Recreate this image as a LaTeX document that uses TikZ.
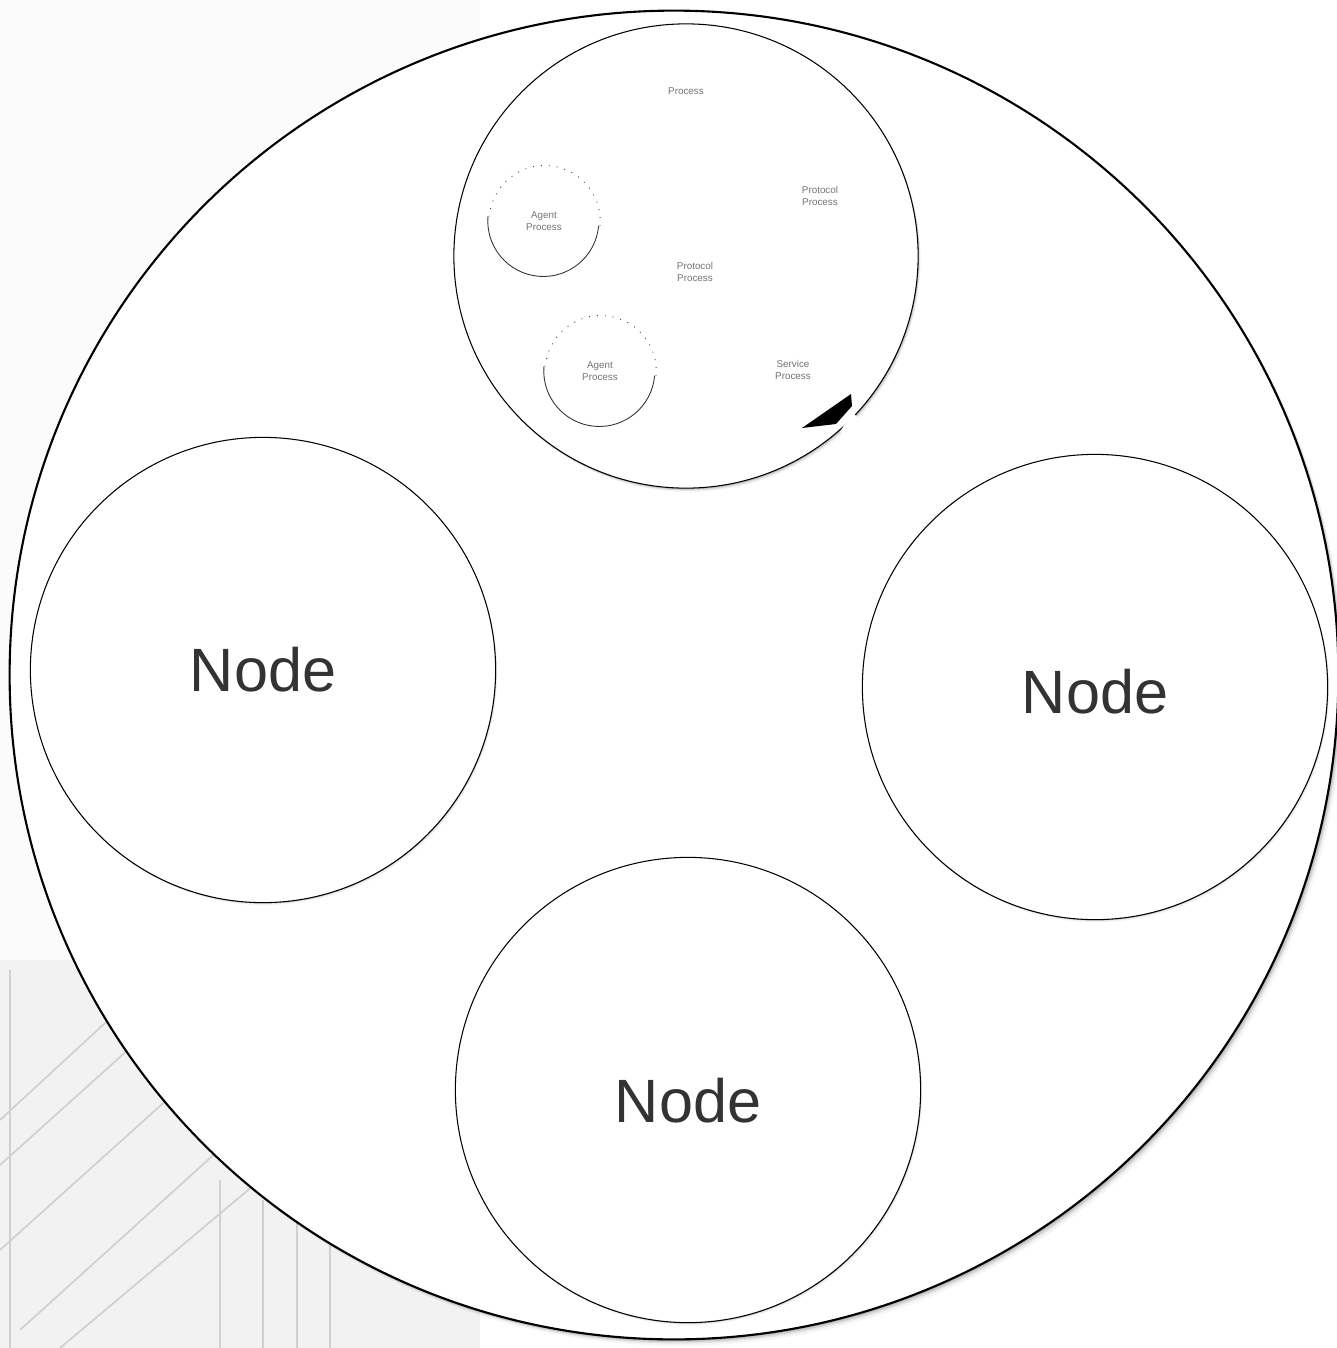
\documentclass[tikz,border=0pt]{standalone}
\usepackage{fontspec}
\setmainfont{Liberation Sans}
\begin{document}
\begin{tikzpicture}[x=0.01cm,y=-0.01cm,
  outerc/.style={circle,draw=black,line width=0.6pt,fill=white,minimum size=13.28cm,inner sep=0pt},
  nodec/.style={circle,draw=black,line width=0.3pt,fill=white,minimum size=4.65cm,inner sep=0pt},
  nodetext/.style={font=\fontsize{17.4pt}{20pt}\selectfont,text=black!80,inner sep=0pt},
  agentc/.style={circle,minimum size=1.11cm,inner sep=0pt,align=center,
     font=\fontsize{2.8pt}{3.4pt}\selectfont,text=black!55},
  small/.style={align=center,font=\fontsize{2.8pt}{3.4pt}\selectfont,text=black!55},
  agentline/.style={line width=0.25pt,black!80},
  bgline/.style={black!18,line width=0.5pt}]
\useasboundingbox (0,0) rectangle (1337,1348);
\fill[white] (0,0) rectangle (1337,1348);
% faint background texture
\fill[black!1.5] (0,0) rectangle (480,960);
\fill[black!5] (0,960) rectangle (480,1348);
\draw[bgline] (10,970) -- (10,1348);
\draw[bgline] (220,1180) -- (220,1348);
\draw[bgline] (263,1200) -- (263,1348);
\draw[bgline] (297,1220) -- (297,1348);
\draw[bgline] (330,1240) -- (330,1348);
\draw[bgline] (0,1120) -- (130,1000);
\draw[bgline] (0,1165) -- (150,1030);
\draw[bgline] (0,1250) -- (200,1070);
\draw[bgline] (20,1330) -- (230,1140);
\draw[bgline] (60,1348) -- (260,1180);
% outer circle with shadow
\foreach \i/\o in {9/0.04,6/0.07,4/0.10,2/0.16}
  \fill[black,opacity=\o] (674+\i*0.6,675+\i*0.7) circle[radius=6.64cm];
\node[outerc] (outer) at (674,675) {};
% process circle (top)
\foreach \i/\o in {6/0.05,4/0.09,2/0.16}
  \fill[black,opacity=\o] (686+\i*0.4,256+\i*0.6) circle[radius=2.32cm];
\node[nodec,minimum size=4.64cm] (proc) at (686,256) {};
% node circles
\foreach \cx/\cy in {263/670,1095/687,688/1090}
  \foreach \i/\o in {4/0.05,2/0.09,1/0.12}
    \fill[black,opacity=\o] (\cx+\i*0.4,\cy+\i*0.6) circle[radius=2.325cm];
\node[nodec] (nl) at (263,670) {};
\node[nodec] (nr) at (1095,687) {};
\node[nodec] (nb) at (688,1090) {};
\node[nodetext] (nlt) at (263,670) {Node};
\node[nodetext] (nrt) at (1095,692) {Node};
\node[nodetext] (nbt) at (688,1101) {Node};
% agent processes
\node[agentc] (ag1) at (544,221) {Agent\\Process};
\node[agentc] (ag2) at (600,371) {Agent\\Process};
\foreach \a in {ag1,ag2} {
  \draw[agentline] (\a.175) arc[start angle=175, end angle=355, radius=0.555cm];
  \draw[agentline,dotted] (\a.355) arc[start angle=-5, end angle=175, radius=0.555cm];
}
% labels
\node[small] (t1) at (686,91) {Process};
\node[small] (t2) at (820,196) {Protocol\\Process};
\node[small] (t3) at (695,272) {Protocol\\Process};
\node[small] (t4) at (793,370) {Service\\Process};
% black wedge
\fill[black] (802,428) -- (851,394) -- (852,406) -- (836,424) -- cycle;
\fill[white] (840,432) -- (852,412) -- (858,418) -- (848,436) -- cycle;
\end{tikzpicture}
\end{document}
